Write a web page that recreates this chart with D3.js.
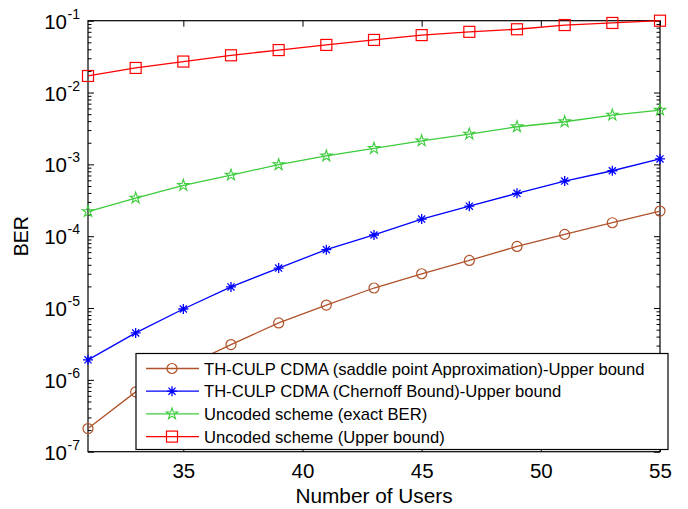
<!DOCTYPE html>
<html lang="en">
<head>
    <meta charset="UTF-8">
    <title>BER vs Number of Users</title>
    <style>
        body { margin: 0; background: #fff; }
        text { font-family: "Liberation Sans", Arial, sans-serif; }
    </style>
    <script src="https://cdn.jsdelivr.net/npm/d3@7"></script>
</head>
<body>
    <script>
        // Data
        const users = [31, 33, 35, 37, 39, 41, 43, 45, 47, 49, 51, 53, 55];
        const saddleBER = [2.1e-7, 6.8e-7, 1.5e-6, 3.1e-6, 6.2e-6, 1.1e-5, 1.9e-5, 3.0e-5, 4.6e-5, 7.2e-5, 1.06e-4, 1.54e-4, 2.24e-4];
        const chernoffBER = [1.9e-6, 4.5e-6, 9.7e-6, 1.97e-5, 3.6e-5, 6.5e-5, 1.04e-4, 1.73e-4, 2.62e-4, 3.95e-4, 5.85e-4, 8.15e-4, 1.19e-3];
        const exactBER = [2.2e-4, 3.4e-4, 5.1e-4, 7.1e-4, 9.9e-4, 1.31e-3, 1.67e-3, 2.13e-3, 2.64e-3, 3.34e-3, 3.92e-3, 4.86e-3, 5.7e-3];
        const upperBER = [0.017, 0.022, 0.027, 0.033, 0.039, 0.046, 0.054, 0.063, 0.07, 0.076, 0.087, 0.093, 0.1];
        const xTicks = [35, 40, 45, 50, 55];
        const yExponents = [-1, -2, -3, -4, -5, -6, -7];
        const legendLabels = [
            "TH-CULP CDMA (saddle point Approximation)-Upper bound",
            "TH-CULP CDMA (Chernoff Bound)-Upper bound",
            "Uncoded scheme (exact BER)",
            "Uncoded scheme (Upper bound)"
        ];

        const series = [
            { name: legendLabels[0], values: saddleBER, color: "#b0522a", marker: "circle" },
            { name: legendLabels[1], values: chernoffBER, color: "#0000ff", marker: "asterisk" },
            { name: legendLabels[2], values: exactBER, color: "#3ccc3c", marker: "star" },
            { name: legendLabels[3], values: upperBER, color: "#ff0000", marker: "square" }
        ];

        const width = 688, height = 509;
        const plot = { left: 88, right: 660, top: 20.7, bottom: 451.7 };

        const svg = d3.select("body").append("svg")
            .attr("width", width).attr("height", height);

        const x = d3.scaleLinear().domain([31, 55]).range([plot.left, plot.right]);
        const y = d3.scaleLog().domain([1e-7, 1e-1]).range([plot.bottom, plot.top]);

        // Frame
        svg.append("rect")
            .attr("x", plot.left).attr("y", plot.top)
            .attr("width", plot.right - plot.left).attr("height", plot.bottom - plot.top)
            .attr("fill", "none").attr("stroke", "#000").attr("stroke-width", 1.2);

        // x axes (bottom + top, ticks inward)
        const xb = svg.append("g")
            .attr("transform", `translate(0,${plot.bottom})`)
            .call(d3.axisBottom(x).tickValues(xTicks).tickSize(-6).tickSizeOuter(0).tickPadding(12));
        xb.select(".domain").remove();
        xb.selectAll("text").attr("font-size", 20.5).attr("dy", "0.72em")
            .attr("font-family", "Liberation Sans, Arial, sans-serif");

        const xt = svg.append("g")
            .attr("transform", `translate(0,${plot.top})`)
            .call(d3.axisTop(x).tickValues(xTicks).tickSize(-6).tickSizeOuter(0).tickFormat(""));
        xt.select(".domain").remove();

        // y axes (left + right), decades + minor ticks
        const majors = yExponents.map(e => Math.pow(10, e));
        const minors = [];
        yExponents.slice(1).forEach(e => d3.range(2, 10).forEach(m => minors.push(m * Math.pow(10, e))));

        [[d3.axisLeft, plot.left], [d3.axisRight, plot.right]].forEach(([ax, px]) => {
            const gMaj = svg.append("g").attr("transform", `translate(${px},0)`)
                .call(ax(y).tickValues(majors).tickSize(-6).tickSizeOuter(0).tickFormat(""));
            gMaj.select(".domain").remove();
            const gMin = svg.append("g").attr("transform", `translate(${px},0)`)
                .call(ax(y).tickValues(minors).tickSize(-3.5).tickSizeOuter(0).tickFormat(""));
            gMin.select(".domain").remove();
        });

        // y tick labels 10^k
        svg.append("g").selectAll("text")
            .data(yExponents)
            .join("text")
            .attr("x", 67)
            .attr("y", d => y(Math.pow(10, d)) + 8)
            .attr("text-anchor", "end")
            .attr("font-size", 20.5)
            .text("10");
        svg.append("g").selectAll("text")
            .data(yExponents)
            .join("text")
            .attr("x", 67.5)
            .attr("y", d => y(Math.pow(10, d)) - 2)
            .attr("font-size", 14)
            .text(d => d);

        // Axis labels
        svg.append("text")
            .attr("x", (plot.left + plot.right) / 2).attr("y", 503)
            .attr("text-anchor", "middle").attr("font-size", 20.8)
            .text("Number of Users");
        svg.append("text")
            .attr("transform", `translate(28,${(plot.top + plot.bottom) / 2}) rotate(-90)`)
            .attr("text-anchor", "middle").attr("font-size", 19.5)
            .text("BER");

        // Markers
        function drawMarker(g, type, color) {
            if (type === "circle") {
                g.append("circle").attr("r", 5).attr("fill", "none").attr("stroke", color).attr("stroke-width", 1.2);
            } else if (type === "square") {
                g.append("rect").attr("x", -5.5).attr("y", -5.5).attr("width", 11).attr("height", 11)
                    .attr("fill", "none").attr("stroke", color).attr("stroke-width", 1.2);
            } else if (type === "star") {
                g.append("path").attr("d", d3.symbol().type(d3.symbolStar).size(40)())
                    .attr("fill", "none").attr("stroke", color).attr("stroke-width", 1.1);
            } else if (type === "asterisk") {
                const r = 5;
                const d = d3.range(4).map(i => {
                    const a = i * Math.PI / 4;
                    return `M${-r * Math.cos(a)},${-r * Math.sin(a)}L${r * Math.cos(a)},${r * Math.sin(a)}`;
                }).join("");
                g.append("path").attr("d", d).attr("stroke", color).attr("stroke-width", 1.3);
            }
        }

        const line = d3.line().x((d, i) => x(users[i])).y(d => y(d));

        series.forEach(s => {
            const g = svg.append("g");
            g.append("path").datum(s.values)
                .attr("d", line)
                .attr("fill", "none").attr("stroke", s.color).attr("stroke-width", 1.3);
            g.selectAll("g.m").data(s.values).join("g")
                .attr("class", "m")
                .attr("transform", (d, i) => `translate(${x(users[i])},${y(d)})`)
                .each(function () { drawMarker(d3.select(this), s.marker, s.color); });
        });

        // Legend
        const lg = svg.append("g");
        lg.append("rect")
            .attr("x", 136).attr("y", 353.5).attr("width", 532).attr("height", 96)
            .attr("fill", "#fff").attr("stroke", "#000").attr("stroke-width", 1.2);
        const rows = lg.selectAll("g.row").data(series).join("g")
            .attr("class", "row")
            .attr("transform", (d, i) => `translate(0,${368.5 + i * 22.7})`);
        rows.append("line").attr("x1", 146).attr("x2", 199)
            .attr("stroke", d => d.color).attr("stroke-width", 1.3);
        rows.append("g").attr("transform", "translate(172,0)")
            .each(function (d) { drawMarker(d3.select(this), d.marker, d.color); });
        rows.append("text").attr("x", 204).attr("y", 6)
            .attr("font-size", 16.6)
            .text(d => d.name);
    </script>
</body>
</html>
